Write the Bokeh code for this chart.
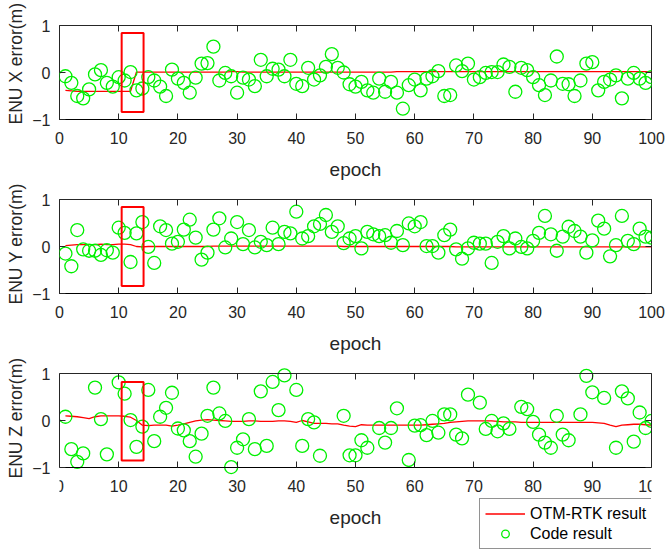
from bokeh.plotting import figure
from bokeh.models import Legend, LegendItem, LinearAxis, FixedTicker, Range1d, Title
from bokeh.layouts import column
from bokeh.embed import file_html
from bokeh.resources import INLINE

nan = float("nan")

EPOCH = list(range(1, 101))
X_TICKS = [0, 10, 20, 30, 40, 50, 60, 70, 80, 90, 100]
Y_TICKS = [-1, 0, 1]

X_CODE = [-0.08, -0.22, -0.50, -0.55, -0.36, -0.04, 0.05, -0.22, -0.30, -0.10,
          -0.17, 0.01, -0.38, -0.34, -0.10, -0.17, -0.30, -0.50, 0.06, -0.13,
          -0.22, -0.43, -0.11, 0.19, 0.20, 0.55, -0.17, -0.01, -0.08, -0.43,
          -0.11, -0.15, -0.29, 0.27, -0.08, 0.08, 0.06, -0.08, 0.27, -0.24,
          -0.29, 0.10, -0.15, -0.06, 0.12, 0.39, 0.10, 0.00, -0.25, -0.30,
          -0.20, -0.38, -0.43, -0.13, -0.41, -0.20, -0.43, -0.77, -0.27, -0.15,
          -0.38, -0.13, -0.08, 0.03, -0.50, -0.48, 0.15, 0.03, 0.19, -0.15,
          -0.10, -0.01, 0.01, 0.01, 0.17, 0.12, -0.41, 0.10, 0.05, -0.10,
          -0.27, -0.48, -0.17, 0.34, -0.24, -0.25, -0.50, -0.17, 0.19, 0.22,
          -0.38, -0.20, -0.15, -0.06, -0.55, -0.13, -0.01, -0.13, -0.22, -0.10]

X_OTM = [-0.38, -0.39, -0.40, -0.40, -0.40, -0.40, -0.40, -0.40, -0.40, -0.40,
         -0.40, -0.40, 0.01, 0.01, 0.01, 0.01, 0.01, 0.01, 0.01, 0.01,
         0.01, 0.01, 0.01, 0.01, 0.01, 0.01, 0.01, 0.01, 0.02, 0.02,
         0.01, 0.01, 0.01, 0.01, 0.01, 0.01, 0.01, 0.01, 0.01, 0.01,
         0.01, 0.01, 0.01, 0.01, 0.01, 0.01, 0.01, 0.01, 0.01, 0.01,
         0.01, 0.01, 0.01, 0.01, 0.01, 0.01, 0.02, 0.02, 0.02, 0.02,
         0.02, 0.02, 0.02, 0.02, 0.02, 0.02, 0.02, 0.02, 0.02, 0.02,
         0.02, 0.02, 0.02, 0.02, 0.02, 0.02, 0.02, 0.02, 0.02, 0.02,
         0.02, 0.02, 0.02, 0.02, 0.02, 0.02, 0.02, 0.02, 0.02, 0.02,
         0.02, 0.02, 0.02, 0.02, 0.02, 0.02, 0.02, 0.02, 0.02, 0.01]

Y_CODE = [-0.15, -0.42, 0.35, -0.06, -0.09, -0.09, -0.18, -0.08, -0.13, 0.40,
          0.29, -0.33, 0.28, 0.52, -0.01, -0.35, 0.43, 0.35, 0.06, 0.10,
          0.36, 0.57, 0.19, -0.28, -0.13, 0.36, 0.60, -0.02, 0.17, 0.52,
          0.05, 0.35, -0.02, 0.10, 0.03, 0.40, 0.05, 0.31, 0.28, 0.74,
          0.17, 0.22, 0.43, 0.48, 0.67, 0.31, 0.43, 0.07, 0.17, 0.22,
          -0.04, 0.31, 0.26, 0.22, 0.24, 0.08, 0.33, 0.03, 0.49, 0.43,
          0.52, 0.01, 0.01, -0.13, 0.24, 0.36, -0.06, -0.26, -0.04, 0.08,
          0.06, 0.06, -0.35, 0.10, 0.22, -0.04, 0.17, -0.01, -0.04, 0.12,
          0.29, 0.65, 0.26, -0.09, 0.21, 0.42, 0.33, 0.21, -0.13, 0.13,
          0.55, 0.38, -0.21, 0.03, 0.65, 0.12, 0.05, 0.38, 0.21, 0.19]

Y_OTM = [0.02, 0.03, 0.04, 0.04, 0.04, 0.04, 0.05, 0.04, 0.04, 0.05,
         0.05, 0.04, 0.00, -0.01, 0.00, 0.00, 0.00, 0.00, 0.00, 0.00,
         0.00, 0.00, 0.00, 0.00, 0.00, 0.01, 0.01, 0.01, 0.01, 0.01,
         0.01, 0.01, 0.01, 0.01, 0.01, 0.01, 0.01, 0.01, 0.01, 0.01,
         0.01, 0.01, 0.01, 0.01, 0.01, 0.01, 0.01, 0.00, 0.00, 0.00,
         0.00, 0.00, 0.00, 0.00, 0.00, 0.00, 0.00, 0.00, 0.00, 0.00,
         0.00, 0.00, 0.00, 0.00, 0.00, 0.00, -0.01, -0.01, -0.01, -0.01,
         -0.01, -0.01, -0.01, -0.01, -0.01, -0.01, -0.01, -0.01, -0.01, -0.01,
         -0.01, -0.01, -0.01, -0.01, -0.01, -0.01, -0.01, -0.01, -0.01, -0.01,
         -0.01, -0.01, -0.01, -0.01, -0.01, -0.01, -0.01, -0.01, -0.01, -0.01]

Z_CODE = [0.08, -0.61, -0.88, -0.70, nan, 0.70, 0.03, -0.72, nan, 0.81,
          0.57, 0.01, -0.56, -0.13, 0.65, -0.44, 0.08, 0.27, 0.59, -0.17,
          -0.21, -0.44, -0.77, -0.28, 0.10, 0.70, 0.15, -0.01, -0.99, -0.58,
          -0.40, 0.03, -0.61, 0.62, -0.54, 0.82, 0.22, 0.96, nan, 0.65,
          -0.54, 0.03, -0.04, -0.75, nan, nan, nan, 0.10, -0.74, -0.74,
          -0.42, -0.58, nan, -0.16, -0.47, -0.16, 0.26, nan, -0.84, -0.11,
          -0.10, -0.31, -0.01, -0.26, 0.13, 0.13, -0.30, -0.38, 0.55, nan,
          0.38, -0.18, -0.01, -0.23, -0.06, -0.18, nan, 0.29, 0.24, -0.03,
          -0.30, -0.47, -0.58, 0.10, -0.30, -0.42, nan, 0.13, 0.95, 0.60,
          nan, 0.48, nan, -0.58, 0.62, 0.47, -0.45, 0.17, -0.16, -0.01]

Z_OTM = [0.10, 0.09, 0.08, 0.06, 0.04, 0.08, 0.10, 0.10, 0.10, 0.10,
         0.09, 0.07, 0.00, -0.10, -0.11, -0.10, -0.10, -0.10, -0.12, -0.10,
         -0.07, -0.04, -0.01, 0.01, 0.02, 0.01, 0.00, -0.01, -0.02, -0.02,
         -0.02, -0.01, -0.01, -0.02, -0.02, -0.02, -0.01, -0.01, -0.02, -0.04,
         0.00, -0.03, -0.06, -0.06, -0.06, -0.07, -0.07, -0.10, -0.12, -0.13,
         -0.09, -0.10, -0.10, -0.10, -0.10, -0.10, -0.10, -0.10, -0.10, -0.10,
         -0.10, -0.09, -0.08, -0.07, -0.06, -0.04, -0.03, -0.02, -0.01, -0.01,
         -0.01, -0.01, -0.01, -0.02, -0.03, -0.03, -0.03, -0.04, -0.04, -0.04,
         -0.04, -0.04, -0.04, -0.04, -0.04, -0.04, -0.04, -0.04, -0.04, -0.04,
         -0.05, -0.06, -0.10, -0.13, -0.10, -0.09, -0.08, -0.08, -0.09, -0.10]

# highlighted epoch window (red rectangles)
BOX_LEFT = 10.5
BOX_RIGHT = 14.2
BOX_TOP = [0.84, 0.84, 0.82]
BOX_BOTTOM = [-0.84, -0.84, -0.85]

YLABELS = ["ENU X error(m)", "ENU Y error(m)", "ENU Z error(m)"]
XLABEL = "epoch"
LEGEND_LABELS = ["OTM-RTK result", "Code result"]

FONT = "Liberation Sans"
TXT = "#262626"
GREEN = "#00f000"
RED = "#ff0000"

FRAME_W = 592
FRAME_H = 94
BORDER_L = 59
BORDER_R = 17


def style_axis(ax):
    ax.major_tick_in = 6
    ax.major_tick_out = 0
    ax.major_tick_line_color = TXT
    ax.minor_tick_line_color = None
    ax.major_label_text_font = FONT
    ax.major_label_text_font_size = "16px"
    ax.major_label_text_color = TXT
    ax.axis_label_text_font = FONT
    ax.axis_label_text_font_size = "19px"
    ax.axis_label_text_font_style = "normal"
    ax.axis_label_text_color = TXT


def make_fig(ylabel, code, otm, top, bottom, border_top, border_bottom,
             label_offset, ext_bottom=0, ext_top=0):
    # ext_*: frame continues beyond the [-1, 1] box (room for legend / markers)
    frame_h = FRAME_H + ext_bottom + ext_top
    unit = 2.0 / FRAME_H
    p = figure(frame_width=FRAME_W, frame_height=frame_h,
               min_border_left=BORDER_L, min_border_right=BORDER_R,
               min_border_top=border_top, min_border_bottom=border_bottom,
               x_range=Range1d(0, 100),
               y_range=Range1d(-1 - ext_bottom * unit, 1 + ext_top * unit),
               x_axis_label=XLABEL,
               output_backend="svg", toolbar_location=None,
               background_fill_color="white", border_fill_color="white")
    p.xgrid.visible = False
    p.ygrid.visible = False
    p.xaxis.ticker = FixedTicker(ticks=X_TICKS)
    p.yaxis.ticker = FixedTicker(ticks=Y_TICKS)
    style_axis(p.xaxis[0])
    style_axis(p.yaxis[0])
    p.xaxis.major_label_standoff = 12
    p.xaxis.axis_label_standoff = 12
    p.yaxis.major_label_standoff = 9

    top_ax = LinearAxis(ticker=FixedTicker(ticks=X_TICKS), major_label_text_font_size="1px",
                        major_label_text_color=None, major_label_standoff=0,
                        major_tick_in=6, major_tick_out=0, minor_tick_line_color=None,
                        major_tick_line_color=TXT)
    right_ax = LinearAxis(ticker=FixedTicker(ticks=Y_TICKS), major_label_text_font_size="1px",
                          major_label_text_color=None, major_label_standoff=0,
                          major_tick_in=6, major_tick_out=0, minor_tick_line_color=None,
                          major_tick_line_color=TXT, bounds=(-1, 1))
    p.add_layout(top_ax, "above")
    p.add_layout(right_ax, "right")

    ytitle = Title(text=ylabel, align="left", offset=label_offset, vertical_align="top",
                   standoff=4, text_font=FONT, text_font_size="17.5px",
                   text_font_style="normal", text_color=TXT)
    p.add_layout(ytitle, "left")

    if ext_bottom > 0 or ext_top > 0:
        p.outline_line_color = None
        p.xaxis.fixed_location = -1
        top_ax.fixed_location = 1
        p.yaxis.bounds = (-1, 1)
        for ax in (p.xaxis[0], p.yaxis[0], top_ax, right_ax):
            ax.axis_line_color = TXT
            ax.axis_line_width = 1
    else:
        p.outline_line_color = TXT
        p.outline_line_alpha = 1.0
        p.outline_line_width = 1
        for ax in (p.xaxis[0], p.yaxis[0], top_ax, right_ax):
            ax.axis_line_color = None

    ln = p.line(EPOCH, otm, line_color=RED, line_width=1.3)
    sc = p.scatter(EPOCH, code, marker="circle", size=13, fill_color=None,
                   line_color=GREEN, line_width=1.3)
    p.quad(left=[BOX_LEFT], right=[BOX_RIGHT], bottom=[bottom], top=[top],
           fill_color=None, line_color=RED, line_width=2)
    return p, ln, sc


p1, _, _ = make_fig(YLABELS[0], X_CODE, X_OTM, BOX_TOP[0], BOX_BOTTOM[0], 25, 62, -5)
p2, _, _ = make_fig(YLABELS[1], Y_CODE, Y_OTM, BOX_TOP[1], BOX_BOTTOM[1], 17, 61, -11)
p3, ln3, sc3 = make_fig(YLABELS[2], Z_CODE, Z_OTM, BOX_TOP[2], BOX_BOTTOM[2], 9, 0, 73,
                        ext_bottom=84, ext_top=8)

legend = Legend(items=[LegendItem(label=LEGEND_LABELS[0], renderers=[ln3]),
                       LegendItem(label=LEGEND_LABELS[1], renderers=[sc3])],
                location=(420, 2), orientation="vertical",
                glyph_width=40, glyph_height=19, label_height=19,
                label_standoff=5, padding=5, spacing=1, margin=0,
                label_text_font=FONT, label_text_font_size="16px",
                label_text_color="black",
                border_line_color=TXT, border_line_width=1,
                background_fill_color="white", background_fill_alpha=1.0)
p3.add_layout(legend)

layout = column(p1, p2, p3, spacing=0)

open("out.html", "w").write(file_html(layout, INLINE))
